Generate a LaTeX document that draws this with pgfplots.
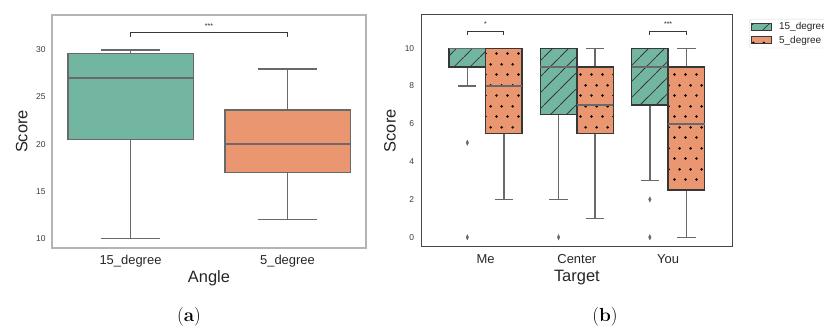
\documentclass[border=0pt]{standalone}
\usepackage{fontspec}
\setmainfont{Liberation Sans}
\newfontfamily\capfont{Latin Modern Roman}
\usepackage{pgfplots}
\pgfplotsset{compat=1.18}
\usepgfplotslibrary{statistics}
\usetikzlibrary{patterns}

\definecolor{cgreen}{RGB}{114,182,161}
\definecolor{corange}{RGB}{233,150,113}
\definecolor{linegray}{RGB}{105,105,105}
\definecolor{boxedge}{RGB}{55,55,55}
\definecolor{bordera}{RGB}{180,180,180}
\definecolor{borderb}{RGB}{70,70,70}
\definecolor{tickcol}{RGB}{60,60,60}
\definecolor{labcol}{RGB}{38,38,38}
\definecolor{legborder}{RGB}{215,215,215}

\pgfdeclarepatternformonly{sparsene}{\pgfqpoint{0bp}{0bp}}{\pgfqpoint{16bp}{16bp}}{\pgfqpoint{16bp}{16bp}}{%
  \pgfsetlinewidth{0.8bp}%
  \pgfpathmoveto{\pgfqpoint{-1bp}{-1bp}}\pgfpathlineto{\pgfqpoint{17bp}{17bp}}\pgfusepath{stroke}}
\pgfdeclarepatternformonly{sparsedots}{\pgfqpoint{0bp}{0bp}}{\pgfqpoint{10.5bp}{21bp}}{\pgfqpoint{10.5bp}{21bp}}{%
  \pgfpathcircle{\pgfqpoint{2.6bp}{2.6bp}}{1.4bp}%
  \pgfpathcircle{\pgfqpoint{7.85bp}{13.1bp}}{1.4bp}\pgfusepath{fill}}

\pgfplotsset{
  common/.style={
    scale only axis, anchor=south west, clip=false,
    major tick length=0pt,
    boxplot/draw direction=y,
    /pgf/number format/assume math mode=true,
    yticklabel style={font=\fontsize{8.5}{10}\selectfont, text=tickcol, xshift=-3bp},
    xticklabel style={font=\fontsize{13}{15}\selectfont, text=labcol, yshift=-4bp},
    label style={font=\fontsize{16.5}{19}\selectfont, text=labcol},
  },
}

\begin{document}
\begin{tikzpicture}
\useasboundingbox (0bp,0bp) rectangle (824bp,329bp);

% ---------------- panel (a) ----------------
\begin{axis}[common,
  at={(52bp,81bp)}, width=314bp, height=233bp,
  xmin=-0.5, xmax=1.5, ymin=9.0, ymax=33.7,
  xtick={0,1}, xticklabels={15\_degree,5\_degree},
  ytick={10,15,20,25,30},
  axis line style={draw=bordera, line width=1.6bp},
  ylabel={Score}, xlabel={Angle},
  ylabel style={at={(axis description cs:-0.0965,0.5)}, anchor=center},
  xlabel style={at={(axis description cs:0.5,-0.13)}, anchor=center},
  ga/.style={draw=linegray, line width=1.6bp,
    boxplot/every whisker/.style={line width=1.6bp},
    boxplot/every median/.style={line width=1.6bp}},
]
\addplot[forget plot, ga, fill=cgreen, boxplot prepared={draw position=0, box extend=0.8, whisker extend=0.38,
  lower whisker=10, lower quartile=20.5, median=27, upper quartile=29.6, upper whisker=30}] coordinates {};
\addplot[forget plot, ga, fill=corange, boxplot prepared={draw position=1, box extend=0.8, whisker extend=0.38,
  lower whisker=12, lower quartile=17, median=20, upper quartile=23.6, upper whisker=28}] coordinates {};
\addplot[forget plot, draw=boxedge, line width=1.1bp] coordinates {(0,31.35) (0,31.8) (1,31.8) (1,31.35)};
\node[font=\fontsize{7}{8}\selectfont, text=labcol] at (axis cs:0.5,32.55) {***};
\end{axis}

% ---------------- panel (b) ----------------
\begin{axis}[common,
  at={(421.7bp,82.3bp)}, width=310.3bp, height=231.7bp,
  xmin=-0.7, xmax=2.7, ymin=-0.5, ymax=11.76,
  xtick={0,1,2}, xticklabels={Me,Center,You},
  ytick={0,2,4,6,8,10},
  yticklabel style={xshift=-1bp},
  axis line style={draw=borderb, line width=1bp},
  ylabel={Score}, xlabel={Target},
  ylabel style={at={(axis description cs:-0.102,0.5)}, anchor=center},
  xlabel style={at={(axis description cs:0.5,-0.135)}, anchor=center},
  legend style={at={(1.055,0.983)}, anchor=north west, draw=legborder, rounded corners=2bp,
    font=\fontsize{10}{12}\selectfont, text=labcol, inner sep=1.5bp, row sep=0.5bp,
    /tikz/every odd column/.append style={column sep=5bp}},
  legend cell align=left,
  legend image code/.code={\draw[sharp corners,#1] (0bp,-3.4bp) rectangle (20.5bp,3.4bp);},
  g15/.style={draw=linegray, fill=cgreen, line width=1.5bp,
    boxplot/every whisker/.style={line width=1.5bp},
    boxplot/every median/.style={line width=1.5bp},
    boxplot/every box/.style={draw=boxedge, postaction={pattern=sparsene, pattern color=boxedge}},
    mark=diamond*, mark size=2.6bp, mark options={xscale=0.65, fill=linegray, draw=linegray, line width=0.4bp}},
  g5/.style={draw=linegray, fill=corange, line width=1.5bp,
    boxplot/every whisker/.style={line width=1.5bp},
    boxplot/every median/.style={line width=1.5bp},
    boxplot/every box/.style={draw=boxedge, postaction={pattern=sparsedots, pattern color=black}}},
]
% Me
\addplot[forget plot, g15, boxplot prepared={draw position=-0.2, box extend=0.4, whisker extend=0.2,
  lower whisker=8, lower quartile=9, median=10, upper quartile=10, upper whisker=10}]
  table[row sep=\\, y index=0] {y\\5\\0\\};
\addplot[forget plot, g5, boxplot prepared={draw position=0.2, box extend=0.4, whisker extend=0.2,
  lower whisker=2, lower quartile=5.5, median=8, upper quartile=10, upper whisker=10}] coordinates {};
% Center
\addplot[forget plot, g15, boxplot prepared={draw position=0.8, box extend=0.4, whisker extend=0.2,
  lower whisker=2, lower quartile=6.5, median=9, upper quartile=10, upper whisker=10}]
  table[row sep=\\, y index=0] {y\\0\\};
\addplot[forget plot, g5, boxplot prepared={draw position=1.2, box extend=0.4, whisker extend=0.2,
  lower whisker=1, lower quartile=5.5, median=7, upper quartile=9, upper whisker=10}] coordinates {};
% You
\addplot[forget plot, g15, boxplot prepared={draw position=1.8, box extend=0.4, whisker extend=0.2,
  lower whisker=3, lower quartile=7, median=9, upper quartile=10, upper whisker=10}]
  table[row sep=\\, y index=0] {y\\2\\0\\};
\addplot[forget plot, g5, boxplot prepared={draw position=2.2, box extend=0.4, whisker extend=0.2,
  lower whisker=0, lower quartile=2.5, median=6, upper quartile=9, upper whisker=10}] coordinates {};
% significance
\addplot[forget plot, draw=boxedge, line width=1.1bp] coordinates {(-0.2,10.7) (-0.2,10.88) (0.2,10.88) (0.2,10.7)};
\addplot[forget plot, draw=boxedge, line width=1.1bp] coordinates {(1.8,10.7) (1.8,10.88) (2.2,10.88) (2.2,10.7)};
\node[font=\fontsize{7}{8}\selectfont, text=labcol] at (axis cs:0,11.3) {*};
\node[font=\fontsize{7}{8}\selectfont, text=labcol] at (axis cs:2,11.3) {***};
% legend
\addlegendimage{draw=boxedge, fill=cgreen, line width=0.9bp, postaction={pattern=sparsene, pattern color=boxedge}}
\addlegendentry{15\_degree}
\addlegendimage{draw=boxedge, fill=corange, line width=0.9bp, postaction={pattern=sparsedots, pattern color=black}}
\addlegendentry{5\_degree}
\end{axis}

\node[font=\capfont\fontsize{19}{22}\selectfont] at (189bp,12bp) {({\bfseries a})};
\node[font=\capfont\fontsize{19}{22}\selectfont] at (605bp,12bp) {({\bfseries b})};
\end{tikzpicture}
\end{document}
